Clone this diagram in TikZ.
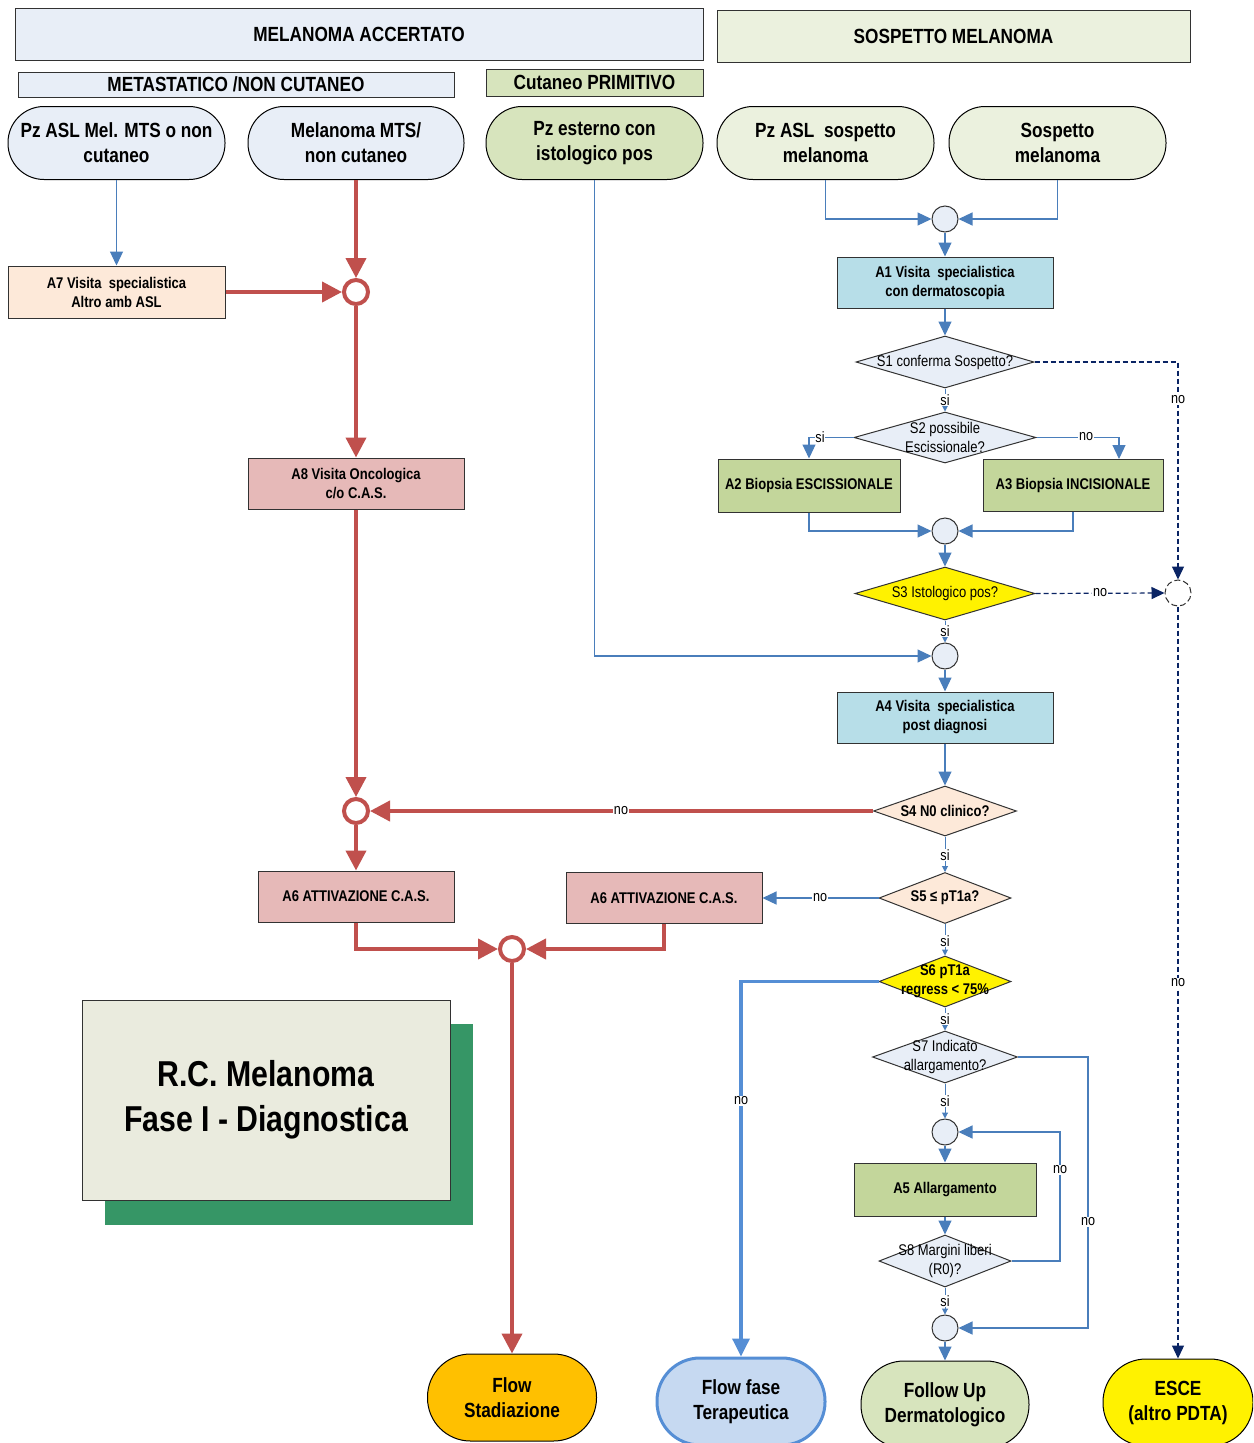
\documentclass[tikz,border=0pt]{standalone}
\usepackage{fontspec}
\setmainfont{Liberation Sans}[FakeStretch=0.84]
\usetikzlibrary{arrows.meta,shapes.geometric}
\definecolor{hblue}{RGB}{232,238,247}
\definecolor{sgreen}{RGB}{235,241,222}
\definecolor{cgreen}{RGB}{215,228,189}
\definecolor{peach}{RGB}{253,233,217}
\definecolor{pink}{RGB}{230,185,184}
\definecolor{cyanbox}{RGB}{183,222,232}
\definecolor{olive}{RGB}{195,214,155}
\definecolor{orangeT}{RGB}{255,192,0}
\definecolor{flowfill}{RGB}{198,217,241}
\definecolor{flowline}{RGB}{85,142,213}
\definecolor{titlefill}{RGB}{234,235,222}
\definecolor{shadowgreen}{RGB}{54,150,102}
\definecolor{redline}{RGB}{192,80,77}
\definecolor{blueline}{RGB}{74,126,187}
\definecolor{navy}{RGB}{10,36,100}
\definecolor{edge}{RGB}{50,50,50}
\begin{document}
\begin{tikzpicture}[x=1pt,y=-1pt,
  big/.style={font=\fontsize{20.5}{25}\selectfont\bfseries},
  small/.style={font=\fontsize{15.5}{19}\selectfont\bfseries},
  smallr/.style={font=\fontsize{15.5}{19}\selectfont},
  hdr/.style={rectangle,draw=edge,line width=1pt,inner sep=0pt,big},
  term/.style={rectangle,rounded corners=36pt,draw=black,line width=1pt,inner sep=0pt,align=center,big,minimum width=217pt,minimum height=73pt},
  bterm/.style={rectangle,rounded corners=43pt,draw=black,line width=1pt,inner sep=0pt,align=center,big,minimum width=168pt,minimum height=87pt},
  proc/.style={rectangle,draw=edge,line width=1pt,inner sep=0pt,align=center,small},
  dec/.style={diamond,draw=edge,line width=1pt,inner sep=0pt},
  dtext/.style={align=center,inner sep=0pt},
  junc/.style={circle,draw=edge,line width=1pt,fill=hblue,minimum size=26pt,inner sep=0pt},
  rjunc/.style={circle,draw=redline,line width=4pt,fill=white,minimum size=24pt,inner sep=0pt},
  bl/.style={draw=blueline,line width=1.2pt,-{Triangle[length=14pt,width=13pt]}},
  bls/.style={draw=blueline,line width=1pt,-{Triangle[length=6pt,width=6pt]}},
  rd/.style={draw=redline,line width=4pt,-{Triangle[length=20pt,width=20pt]}},
  nv/.style={draw=navy,line width=1.2pt,dash pattern=on 5pt off 3pt,-{Triangle[length=13pt,width=12pt]}},
  tb/.style={draw=flowline,line width=3.5pt,-{Triangle[length=18pt,width=17pt]}},
  lbl/.style={fill=white,inner sep=0.6pt,font=\fontsize{15}{17}\selectfont}
]
\clip (0,0) rectangle (1253,1443);
\fill[white] (0,0) rectangle (1253,1443);

% headers
\node[hdr,fill=hblue,minimum width=688pt,minimum height=52pt] (h1) at (359,34) {MELANOMA ACCERTATO};
\node[hdr,fill=sgreen,minimum width=473pt,minimum height=52pt] (h2) at (953.5,36) {SOSPETTO MELANOMA};
\node[hdr,fill=hblue,minimum width=436pt,minimum height=25pt] (h3) at (236,84.5) {METASTATICO /NON CUTANEO};
\node[hdr,fill=cgreen,minimum width=217pt,minimum height=27pt] (h4) at (594.5,82.5) {Cutaneo PRIMITIVO};

% start terminators
\node[term,fill=hblue] (t1) at (116.5,143) {Pz ASL Mel. MTS o non\\cutaneo};
\node[term,fill=hblue,minimum width=216pt] (t2) at (356,143) {Melanoma MTS/\\non cutaneo};
\node[term,fill=cgreen] (t3) at (594.5,143) {Pz esterno con\\istologico pos};
\node[term,fill=sgreen] (t4) at (825.5,143) {Pz ASL\ \ sospetto\\melanoma};
\node[term,fill=sgreen] (t5) at (1057.5,143) {Sospetto\\melanoma};

% process boxes
\node[proc,fill=peach,minimum width=217pt,minimum height=52pt] (a7) at (116.5,292) {A7 Visita\ \ specialistica\\Altro amb ASL};
\node[proc,fill=pink,minimum width=216pt,minimum height=51pt] (a8) at (356,483.5) {A8 Visita Oncologica\\c/o C.A.S.};
\node[proc,fill=cyanbox,minimum width=216pt,minimum height=51pt] (a1) at (945,282.5) {A1 Visita\ \ specialistica\\con dermatoscopia};
\node[proc,fill=olive,minimum width=182pt,minimum height=53pt] (a2) at (809,485.5) {A2 Biopsia ESCISSIONALE};
\node[proc,fill=olive,minimum width=180pt,minimum height=52pt] (a3) at (1073,485) {A3 Biopsia INCISIONALE};
\node[proc,fill=cyanbox,minimum width=216pt,minimum height=51pt] (a4) at (945,717.5) {A4 Visita\ \ specialistica\\post diagnosi};
\node[proc,fill=pink,minimum width=196pt,minimum height=51pt] (a6l) at (356,896.5) {A6 ATTIVAZIONE C.A.S.};
\node[proc,fill=pink,minimum width=196pt,minimum height=51pt] (a6r) at (664,898) {A6 ATTIVAZIONE C.A.S.};
\node[proc,fill=olive,minimum width=182pt,minimum height=53pt] (a5) at (945,1189.5) {A5 Allargamento};

% decisions
\node[dec,fill=hblue,minimum width=178pt,minimum height=52pt] (s1) at (945,362) {};
\node[dtext,smallr] (s1t) at (s1) {S1 conferma Sospetto?};
\node[dec,fill=hblue,minimum width=182pt,minimum height=51pt] (s2) at (945,437.5) {};
\node[dtext,smallr] (s2t) at (s2) {S2 possibile\\Escissionale?};
\node[dec,fill=yellow,minimum width=180pt,minimum height=53pt] (s3) at (945,593.5) {};
\node[dtext,smallr] (s3t) at (s3) {S3 Istologico pos?};
\node[dec,fill=peach,minimum width=143pt,minimum height=50pt] (s4) at (945,811) {};
\node[dtext,small] (s4t) at (s4) {S4 N0 clinico?};
\node[dec,fill=peach,minimum width=132pt,minimum height=51pt] (s5) at (945,898) {};
\node[dtext,small] (s5t) at (s5) {S5 ≤ pT1a?};
\node[dec,fill=yellow,minimum width=132pt,minimum height=51pt] (s6) at (945,981.5) {};
\node[dtext,small] (s6t) at (s6) {S6 pT1a\\regress < 75\%};
\node[dec,fill=hblue,minimum width=145pt,minimum height=52pt] (s7) at (945,1057) {};
\node[dtext,smallr] (s7t) at (s7) {S7 Indicato\\allargamento?};
\node[dec,fill=hblue,minimum width=132pt,minimum height=52pt] (s8) at (945,1261) {};
\node[dtext,smallr] (s8t) at (s8) {S8 Margini liberi\\(R0)?};

% junctions
\node[junc] (j1) at (945,219) {};
\node[junc] (j2) at (945,531) {};
\node[junc] (j3) at (945,656) {};
\node[junc] (j4) at (945,1132) {};
\node[junc] (j5) at (945,1328) {};
\node[circle,draw=edge,line width=1pt,dash pattern=on 6pt off 3pt,fill=white,minimum size=26pt,inner sep=0pt] (dc) at (1178,593) {};
\node[rjunc] (r1) at (356,292) {};
\node[rjunc] (r2) at (356,811) {};
\node[rjunc] (r3) at (512,949) {};

% end terminators
\node[bterm,fill=orangeT,minimum width=169pt] (fs) at (512,1397.5) {Flow\\Stadiazione};
\node[bterm,fill=flowfill,draw=flowline,line width=3pt] (ff) at (741,1401.5) {Flow fase\\Terapeutica};
\node[bterm,fill=cgreen] (fu) at (945,1404.5) {Follow Up\\Dermatologico};
\node[bterm,fill=yellow,minimum width=150pt] (es) at (1178,1402.5) {ESCE\\(altro PDTA)};

% title
\fill[shadowgreen] (105,1024) rectangle (473,1225);
\node[rectangle,draw=edge,line width=1pt,fill=titlefill,minimum width=368pt,minimum height=200pt,align=center,font=\fontsize{36}{45}\selectfont\bfseries] (title) at (266,1100) {R.C. Melanoma\\Fase I - Diagnostica};

% helper coordinates
\coordinate (a3in) at (1119,459);
\coordinate (c7) at (1088,1057);
\coordinate (c8) at (1060,1261);

% left side connectors
\draw[bl] (t1.south) -- (a7.north);
\draw[rd] (t2.south) -- (r1.north);
\draw[rd] (a7.east) -- (r1.west);
\draw[rd] (r1.south) -- (a8.north);
\draw[rd] (a8.south) -- (r2.north);
\draw[rd] (s4.west) -- (r2.east);
\draw[rd] (r2.south) -- (a6l.north);
\draw[rd] (a6l.south) |- (r3.west);
\draw[rd] (a6r.south) |- (r3.east);
\draw[rd] (r3.south) -- (fs.north);

% right side connectors
\draw[bl] (t3.south) |- (j3.west);
\draw[bl] (t4.south) |- (j1.west);
\draw[bl] (t5.south) |- (j1.east);
\draw[bl] (j1.south) -- (a1.north);
\draw[bl] (a1.south) -- (s1.north);
\draw[bls] (s1.south) -- (s2.north);
\draw[bl] (s2.west) -| (a2.north);
\draw[bl] (s2.east) -| (a3in);
\draw[bl] (a2.south) |- (j2.west);
\draw[bl] (a3.south) |- (j2.east);
\draw[bl] (j2.south) -- (s3.north);
\draw[nv] (s1.east) -| (dc.north);
\draw[nv] (s3.east) -- (dc.west);
\draw[nv] (dc.south) -- (es.north);
\draw[bls] (s3.south) -- (j3.north);
\draw[bl] (j3.south) -- (a4.north);
\draw[bl] (a4.south) -- (s4.north);
\draw[bls] (s4.south) -- (s5.north);
\draw[bl] (s5.west) -- (a6r.east);
\draw[bls] (s5.south) -- (s6.north);
\draw[tb] (s6.west) -| (ff.north);
\draw[bls] (s6.south) -- (s7.north);
\draw[bls] (s7.south) -- (j4.north);
\draw[bl] (s7.east) -- (c7) |- (j5.east);
\draw[bl] (j4.south) -- (a5.north);
\draw[bl] (a5.south) -- (s8.north);
\draw[bl] (s8.east) -- (c8) |- (j4.east);
\draw[bls] (s8.south) -- (j5.north);
\draw[bl] (j5.south) -- (fu.north);

% labels
\node[lbl] (l1) at (945,400) {si};
\node[lbl] (l2) at (820,437) {si};
\node[lbl] (l3) at (1086,437) {no};
\node[lbl] (l4) at (1178,400) {no};
\node[lbl] (l5) at (1100,593) {no};
\node[lbl] (l6) at (1178,983) {no};
\node[lbl] (l7) at (945,631) {si};
\node[lbl] (l8) at (621,811) {no};
\node[lbl] (l9) at (945,855) {si};
\node[lbl] (l10) at (820,898) {no};
\node[lbl] (l11) at (945,941) {si};
\node[lbl] (l12) at (741,1101) {no};
\node[lbl] (l13) at (945,1019) {si};
\node[lbl] (l14) at (945,1101) {si};
\node[lbl] (l15) at (1060,1170) {no};
\node[lbl] (l16) at (1088,1222) {no};
\node[lbl] (l17) at (945,1301) {si};
\end{tikzpicture}
\end{document}
